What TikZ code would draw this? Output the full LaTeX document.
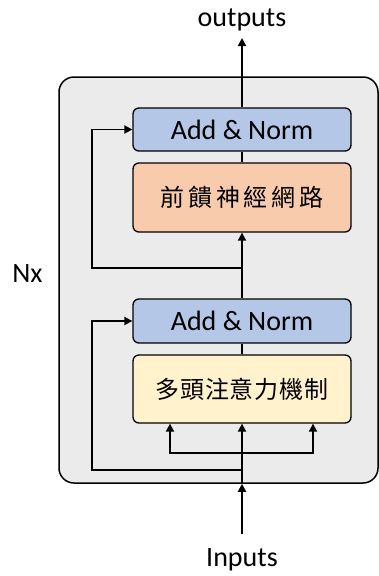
\documentclass[tikz,border=0pt]{standalone}
\usepackage{fontspec}
\setmainfont{Carlito}
\newfontfamily\cjk{Noto Sans CJK TC}
\usetikzlibrary{arrows.meta}
\definecolor{normblue}{HTML}{B4C7E7}
\definecolor{ffnorange}{HTML}{F8CBAD}
\definecolor{attnyellow}{HTML}{FFF2CC}
\definecolor{layergray}{HTML}{EBEBEB}

\begin{document}
\begin{tikzpicture}[x=1pt, y=-1pt,
		block/.style={draw, line width=1.3pt, rounded corners=6pt, minimum width=218pt, inner sep=0pt},
		flow/.style={line width=1.8pt, -{Triangle[length=8pt,width=8pt]}},
		wire/.style={line width=1.8pt}]
			\useasboundingbox (0, 0) rectangle (379, 576); %keep the page size of the reference
			\node[draw, line width=1.5pt, rounded corners=15pt, fill=layergray, minimum width=319pt, minimum height=406pt] (layer) at (218.5, 280) {}; %the repeated layer
			
			\node[block, fill=normblue, minimum height=43pt] (addnormtop) at (242, 129.5) {\fontsize{28}{30}\selectfont Add \& Norm};
			\node[block, fill=ffnorange, minimum height=69pt] (ffn) at (242, 197.5) {\cjk\fontsize{24}{26}\selectfont\addfontfeature{LetterSpace=16}前饋神經網路};
			\node[block, fill=normblue, minimum height=44pt] (addnormbot) at (242, 321) {\fontsize{28}{30}\selectfont Add \& Norm};
			\node[block, fill=attnyellow, minimum height=68pt] (mha) at (242, 389) {\cjk\fontsize{24}{26}\selectfont\addfontfeature{LetterSpace=3}多頭注意力機制};
			
			\node[anchor=base] (outputs) at (242, 26) {\fontsize{28}{30}\selectfont outputs}; %text above the layer
			\node[anchor=base] (inputs) at (242, 566) {\fontsize{28}{30}\selectfont Inputs};
			\node[anchor=base] (nx) at (27.5, 282) {\fontsize{28}{30}\selectfont Nx};
			
			\coordinate (outtip) at (242, 38);
			\coordinate (instart) at (242, 534);
			\coordinate (split1) at (242, 268); %residual branch points
			\coordinate (split2) at (242, 470);
			\coordinate (branch) at (242, 453); %three inputs of the attention
			
			\draw[flow] (addnormtop.north) -- (outtip);
			\draw[wire] (ffn.north) -- (addnormtop.south);
			\draw[flow] (addnormbot.north) -- (ffn.south);
			\draw[wire] (mha.north) -- (addnormbot.south);
			\draw[flow] (split1) -- ++(-150, 0) |- (addnormtop.west);
			\draw[flow] (split2) -- ++(-150, 0) |- (addnormbot.west);
			
			\draw[flow] (instart) -- (layer.south -| mha.south);
			\draw[flow] (layer.south -| mha.south) -- (mha.south);
			\draw[flow] (branch) -| ([xshift=-72pt]mha.south);
			\draw[flow] (branch) -| ([xshift=71pt]mha.south);
		\end{tikzpicture}
\end{document}
